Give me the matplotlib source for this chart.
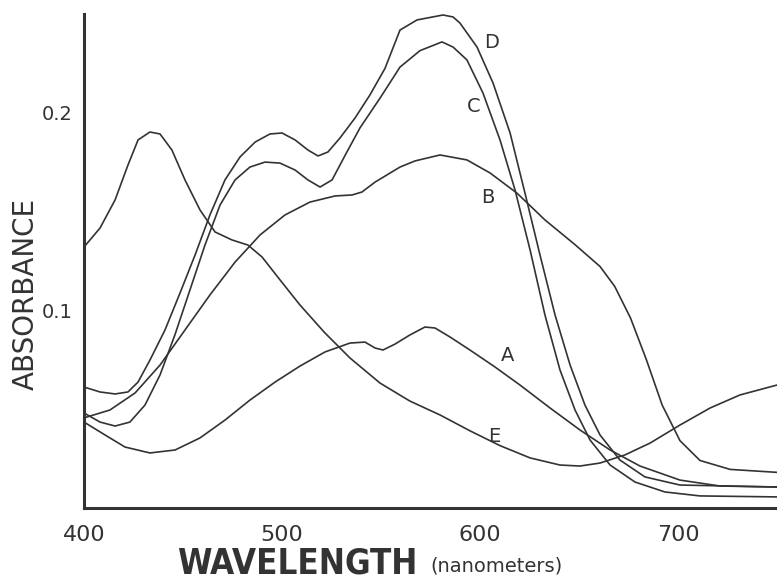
import matplotlib
matplotlib.use("Agg")
import matplotlib.pyplot as plt

# ---- data ----
wl_A = [400, 410.6, 420.7, 433.3, 446.0, 458.6, 471.2, 483.8, 496.5, 509.1, 521.7, 534.3, 541.9, 547.0, 551.0,
        557.1, 564.6, 572.2, 577.3, 584.8, 594.9, 607.6, 620.2, 635.4, 650.5, 665.7, 680.8, 701.0, 721.2, 750]
ab_A = [0.0434, 0.0369, 0.0308, 0.0278, 0.0293, 0.0354, 0.0444, 0.0545, 0.0636, 0.0717, 0.0788, 0.0833, 0.0838,
        0.0808, 0.0798, 0.0828, 0.0874, 0.0914, 0.0909, 0.0864, 0.0798, 0.0712, 0.0621, 0.0505, 0.0394, 0.0293,
        0.0212, 0.0141, 0.0111, 0.0106]

wl_B = [400, 413.1, 425.8, 438.4, 451.0, 463.6, 476.3, 488.9, 501.5, 514.1, 526.8, 535.4, 540.4, 547.0, 559.6,
        567.2, 579.8, 593.4, 605.1, 618.7, 632.8, 648.0, 660.6, 668.0, 676.0, 684.0, 692.0, 701.0, 711.1, 726.3, 750]
ab_B = [0.0455, 0.0495, 0.0581, 0.0722, 0.0899, 0.1076, 0.1242, 0.1379, 0.1480, 0.1545, 0.1576, 0.1581, 0.1596,
        0.1646, 0.1722, 0.1753, 0.1783, 0.1758, 0.1692, 0.1590, 0.1455, 0.1330, 0.1220, 0.1120, 0.0960, 0.0750,
        0.0520, 0.0340, 0.0240, 0.0195, 0.0180]

wl_C = [400, 408.1, 415.7, 423.2, 430.8, 438.4, 445.9, 453.5, 461.1, 468.7, 476.3, 483.8, 491.4, 499.0, 506.6,
        513.1, 519.2, 525.3, 531.8, 539.4, 549.5, 559.6, 569.7, 580.8, 586.4, 593.4, 601.5, 610.1, 617.7, 625.3,
        632.8, 640.4, 648.0, 655.6, 665.7, 678.3, 693.4, 711.1, 750]
ab_C = [0.0480, 0.0434, 0.0414, 0.0434, 0.0520, 0.0672, 0.0874, 0.1101, 0.1328, 0.1530, 0.1657, 0.1722, 0.1747,
        0.1742, 0.1707, 0.1657, 0.1621, 0.1657, 0.1780, 0.1920, 0.2070, 0.2227, 0.2310, 0.2354, 0.2328, 0.2263,
        0.2096, 0.1859, 0.1606, 0.1303, 0.0975, 0.0697, 0.0495, 0.0343, 0.0217, 0.0131, 0.0081, 0.0061, 0.0056]

wl_D = [400, 408.1, 415.7, 422.2, 427.3, 433.3, 440.9, 448.5, 456.1, 463.6, 471.2, 478.8, 486.4, 493.9, 500.0,
        506.6, 513.1, 518.2, 523.2, 529.3, 536.9, 544.4, 552.0, 559.6, 568.2, 581.3, 586.4, 589.9, 598.5, 606.6,
        615.2, 622.7, 630.3, 637.9, 645.5, 653.0, 660.6, 670.7, 683.3, 701.0, 750]
ab_D = [0.0611, 0.0586, 0.0576, 0.0586, 0.0636, 0.0747, 0.0899, 0.1086, 0.1278, 0.1480, 0.1657, 0.1773, 0.1848,
        0.1889, 0.1894, 0.1859, 0.1808, 0.1778, 0.1798, 0.1869, 0.1970, 0.2086, 0.2220, 0.2414, 0.2465, 0.2490,
        0.2480, 0.2449, 0.2328, 0.2146, 0.1894, 0.1591, 0.1278, 0.0975, 0.0722, 0.0520, 0.0369, 0.0242, 0.0157,
        0.0116, 0.0106]

wl_E = [400, 408.1, 415.7, 422.2, 427.3, 433.3, 438.4, 444.4, 451.0, 458.6, 466.2, 474.7, 482.8, 489.9, 499.0,
        509.1, 521.7, 534.3, 549.5, 564.6, 579.8, 594.9, 610.1, 625.3, 640.4, 650.5, 660.6, 673.2, 685.9, 701.0,
        716.2, 731.3, 750]
ab_E = [0.1318, 0.1414, 0.1556, 0.1732, 0.1859, 0.1899, 0.1889, 0.1808, 0.1657, 0.1505, 0.1394, 0.1354, 0.1328,
        0.1268, 0.1152, 0.1025, 0.0884, 0.0758, 0.0631, 0.0540, 0.0470, 0.0390, 0.0315, 0.0253, 0.0217, 0.0212,
        0.0227, 0.0268, 0.0328, 0.0419, 0.0505, 0.0571, 0.0621]

curve_names = ["A", "B", "C", "D", "E"]
label_pos = {"D": (606, 0.235), "C": (597, 0.203), "B": (604, 0.157), "A": (614, 0.077), "E": (607, 0.036)}

x_ticks = [400, 500, 600, 700]
y_ticks = [0.1, 0.2]
y_tick_labels = ["0.1", "0.2"]

INK = "#333333"

fig = plt.figure(figsize=(7.77, 5.80), dpi=100)
ax = fig.add_axes([84 / 777, 72 / 580, 693 / 777, 494 / 580])

series = {"A": (wl_A, ab_A), "B": (wl_B, ab_B), "C": (wl_C, ab_C), "D": (wl_D, ab_D), "E": (wl_E, ab_E)}
for name in curve_names:
    xs, ys = series[name]
    ax.plot(xs, ys, color=INK, lw=1.2, solid_joinstyle="round", solid_capstyle="round")
    lx, ly = label_pos[name]
    ax.text(lx, ly, name, fontsize=14, color=INK, ha="center", va="center")

ax.set_xlim(400, 750)
ax.set_ylim(0, 0.2495)
for s in ["top", "right"]:
    ax.spines[s].set_visible(False)
for s in ["left", "bottom"]:
    ax.spines[s].set_linewidth(2.2)
    ax.spines[s].set_color(INK)

ax.set_xticks(x_ticks)
ax.set_xticklabels([str(t) for t in x_ticks], fontsize=16, color=INK)
ax.set_yticks(y_ticks)
ax.set_yticklabels(y_tick_labels, fontsize=14, color=INK)
ax.tick_params(axis="x", length=0, pad=12)
ax.tick_params(axis="y", length=0, pad=8)

fig.text(26 / 777, 1 - 294 / 580, "ABSORBANCE", rotation=90, fontsize=20,
         color=INK, ha="center", va="center")
fig.text(177 / 777, 6 / 580, "WAVELENGTH", fontsize=25, fontweight="bold", fontstretch="condensed",
         family=["DejaVu Sans Condensed", "Liberation Sans Narrow", "DejaVu Sans"], color=INK,
         ha="left", va="baseline")
fig.text(430 / 777, 9 / 580, "(nanometers)", fontsize=14, color=INK, ha="left", va="baseline")

fig.savefig("out.png", dpi=100)
